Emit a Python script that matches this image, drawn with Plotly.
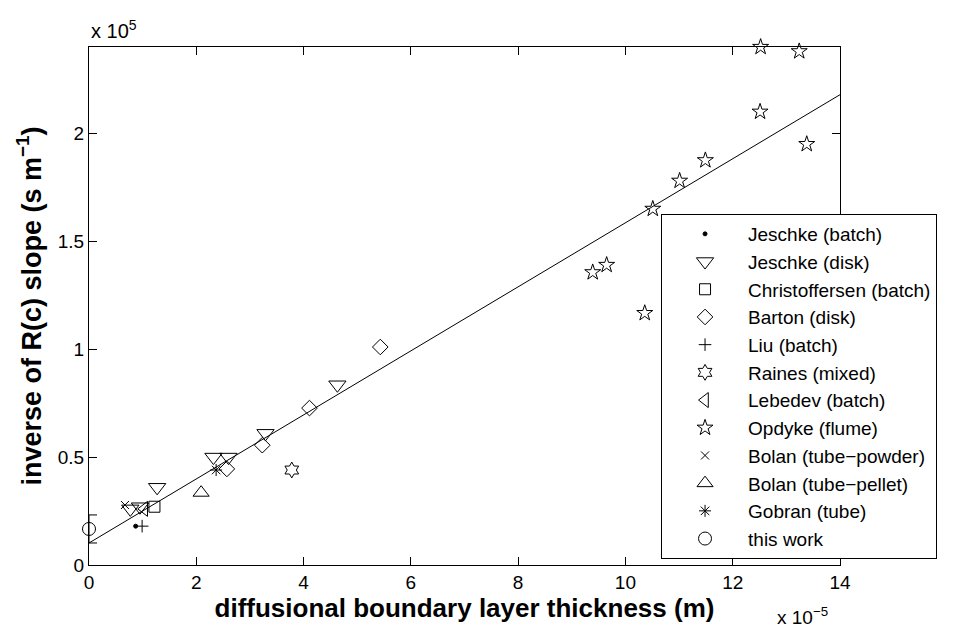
import plotly.graph_objects as go

# values in units of 1e-5 m (x) and 1e5 s/m (y)
jeschke_batch_x = [0.87]
jeschke_batch_y = [0.18]
jeschke_disk_x = [0.77, 0.95, 1.27, 2.32, 2.60, 3.29, 4.63]
jeschke_disk_y = [0.26, 0.27, 0.36, 0.50, 0.50, 0.61, 0.835]
christoffersen_x = [1.22]
christoffersen_y = [0.27]
barton_x = [2.57, 3.23, 4.11, 5.43]
barton_y = [0.445, 0.555, 0.727, 1.01]
liu_x = [0.99]
liu_y = [0.18]
raines_x = [3.78]
raines_y = [0.44]
lebedev_x = [1.03]
lebedev_y = [0.26]
opdyke_x = [9.39, 9.65, 10.36, 10.51, 11.01, 11.49, 12.51, 12.52, 13.24, 13.38]
opdyke_y = [1.356, 1.39, 1.167, 1.65, 1.78, 1.875, 2.10, 2.40, 2.38, 1.95]
bolan_powder_x = [0.67]
bolan_powder_y = [0.278]
bolan_pellet_x = [2.09]
bolan_pellet_y = [0.335]
gobran_x = [2.37]
gobran_y = [0.44]
this_work_x = [0.0]
this_work_y = [0.167]
this_work_err = [0.065]
fit_x = [0.0, 14.0]
fit_y = [0.102, 2.179]

x_ticks = [0, 2, 4, 6, 8, 10, 12, 14]
y_ticks = [0, 0.5, 1, 1.5, 2]
y_tick_labels = ["0", "0.5", "1", "1.5", "2"]

FONT = "Liberation Sans, Arial, Helvetica, sans-serif"

fig = go.Figure()

fig.add_trace(go.Scatter(x=fit_x, y=fit_y, mode="lines",
                         line=dict(color="black", width=1),
                         showlegend=False, hoverinfo="skip"))

series = [
    ("Jeschke (batch)", jeschke_batch_x, jeschke_batch_y, "circle", 4),
    ("Jeschke (disk)", jeschke_disk_x, jeschke_disk_y, "triangle-down-open", 15),
    ("Christoffersen (batch)", christoffersen_x, christoffersen_y, "square-open", 11),
    ("Barton (disk)", barton_x, barton_y, "diamond-open", 12),
    ("Liu (batch)", liu_x, liu_y, "cross-thin-open", 9),
    ("Raines (mixed)", raines_x, raines_y, "hexagram-open", 12),
    ("Lebedev (batch)", lebedev_x, lebedev_y, "triangle-left-open", 13),
    ("Opdyke (flume)", opdyke_x, opdyke_y, "star-open", 12),
    ("Bolan (tube\u2212powder)", bolan_powder_x, bolan_powder_y, "x-thin-open", 8),
    ("Bolan (tube\u2212pellet)", bolan_pellet_x, bolan_pellet_y, "triangle-up-open", 14),
    ("Gobran (tube)", gobran_x, gobran_y, "asterisk-open", 10),
]

for name, xs, ys, sym, size in series:
    fig.add_trace(go.Scatter(
        x=xs, y=ys, mode="markers", name=name, cliponaxis=False,
        marker=dict(symbol=sym, size=size, color="black",
                    line=dict(color="black", width=1))))

fig.add_trace(go.Scatter(
    x=this_work_x, y=this_work_y, mode="markers", name="this work", cliponaxis=False,
    marker=dict(symbol="circle-open", size=13, color="black",
                line=dict(color="black", width=1)),
    error_y=dict(type="data", array=this_work_err, color="black",
                 thickness=1, width=8)))

axis_common = dict(showline=True, linecolor="black", linewidth=1, mirror="ticks",
                   ticks="inside", ticklen=8, tickcolor="black", showgrid=False,
                   zeroline=False, tickfont=dict(family=FONT, size=19, color="black"))

fig.update_xaxes(range=[0, 14], tickvals=x_ticks,
                 title=dict(text="<b>diffusional boundary layer thickness (m)</b>",
                            font=dict(family=FONT, size=26, color="black"), standoff=2),
                 **axis_common)
fig.update_yaxes(range=[0, 2.4], tickvals=y_ticks, ticktext=y_tick_labels,
                 title=dict(text="<b>inverse of R(c) slope (s m<sup>\u22121</sup>)</b>",
                            font=dict(family=FONT, size=27, color="black"), standoff=8),
                 **axis_common)

fig.add_annotation(text="x 10<sup>5</sup>", xref="paper", yref="paper",
                   x=0, y=1, xanchor="left", yanchor="bottom", yshift=3,
                   showarrow=False, font=dict(family=FONT, size=20, color="black"))
fig.add_annotation(text="x 10<sup>\u22125</sup>", xref="paper", yref="paper",
                   x=0.987, y=0, xanchor="right", yanchor="top", yshift=-37,
                   showarrow=False, font=dict(family=FONT, size=19, color="black"))

fig.update_layout(
    width=957, height=633,
    margin=dict(l=81, r=125, t=39, b=76),
    plot_bgcolor="white", paper_bgcolor="white",
    font=dict(family=FONT, color="black"),
    legend=dict(x=0.7617, y=0.6776, xanchor="left", yanchor="top",
                bgcolor="white", bordercolor="black", borderwidth=1,
                font=dict(family=FONT, size=19, color="black"),
                itemwidth=76, tracegroupgap=0),
)

fig.write_html("out.html")
